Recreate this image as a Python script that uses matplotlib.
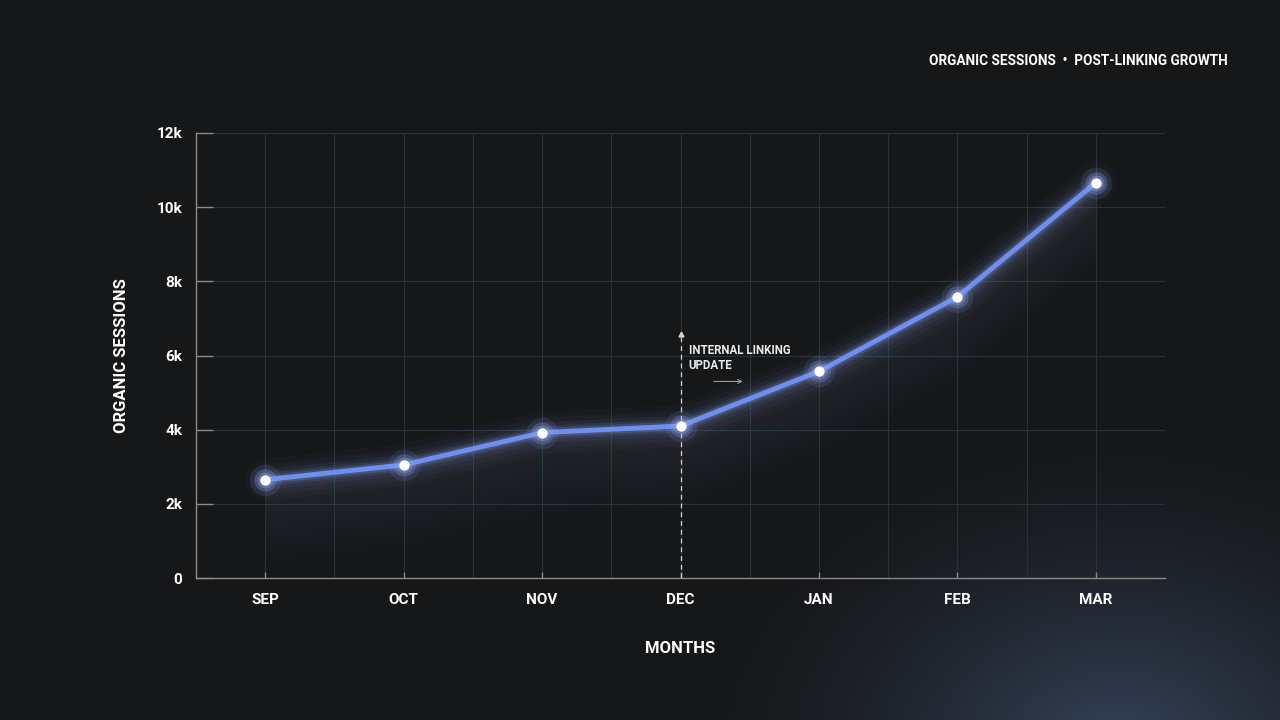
import matplotlib.pyplot as plt
import numpy as np
from matplotlib.colors import LinearSegmentedColormap

plt.rcParams['font.family'] = ['Roboto', 'DejaVu Sans']

months = ['SEP', 'OCT', 'NOV', 'DEC', 'JAN', 'FEB', 'MAR']
sessions = [2650, 3050, 3920, 4100, 5570, 7580, 10660]
yticks = [0, 2000, 4000, 6000, 8000, 10000, 12000]
ytick_labels = ['0', '2k', '4k', '6k', '8k', '10k', '12k']
event_idx = 3  # DEC

bg = '#161719'
line_col = '#6f8ff0'
grid_col = '#2a2f38'

fig = plt.figure(figsize=(12.8, 7.2), dpi=100, facecolor=bg)

# background with a soft glow in the lower right corner (pixel coords, y down)
bga = fig.add_axes([0, 0, 1, 1], zorder=0)
bga.set_axis_off()
gx, gy = np.meshgrid(np.linspace(0, 1280, 320), np.linspace(0, 720, 180))
d = np.sqrt((gx - 1120) ** 2 + ((gy - 760) * 1.3) ** 2)
glow = np.clip(1 - d / 430, 0, 1) ** 1.5
cmap = LinearSegmentedColormap.from_list('bgglow', [bg, '#36445c'])
bga.imshow(glow, cmap=cmap, extent=[0, 1280, 720, 0], origin='upper', aspect='auto', vmin=0, vmax=1)
bga.set_xlim(0, 1280)
bga.set_ylim(720, 0)

ax = fig.add_axes([196 / 1280, 142 / 720, 969 / 1280, 445 / 720], zorder=1)
ax.set_facecolor('none')
x = np.arange(len(months))

# grid
for xi in np.arange(-0.5, len(months), 0.5):
    ax.axvline(xi, color=grid_col, lw=0.8, zorder=1)
for yv in yticks[1:]:
    ax.axhline(yv, color='#2b313c', lw=0.8, zorder=1)

# soft area glow under the line
for k in range(14):
    ax.fill_between(x, sessions, [v - 2200 * (k + 1) / 14 for v in sessions],
                    color='#7a90c8', alpha=0.012, lw=0, zorder=2)

# glowing line
for lw, a in [(30, 0.03), (22, 0.045), (15, 0.07), (10, 0.11), (6.5, 0.2)]:
    ax.plot(x, sessions, color='#8aa2f0', lw=lw, alpha=a, solid_capstyle='round', zorder=3)
ax.plot(x, sessions, color=line_col, lw=3.5, solid_capstyle='round', zorder=4)

# markers with halo
ax.scatter(x, sessions, s=520, color='#8aa2f0', alpha=0.12, lw=0, zorder=5)
ax.scatter(x, sessions, s=260, color='#8aa2f0', alpha=0.25, lw=0, zorder=5)
ax.scatter(x, sessions, s=130, color='#8aa2f0', alpha=0.35, lw=0, zorder=6)
ax.scatter(x, sessions, s=55, color='white', lw=0, zorder=7)

# event marker
ax.plot([event_idx, event_idx], [0, 6550], color='#d0d0d0', lw=0.9, ls=(0, (4, 3)), zorder=3)
ax.plot(event_idx, 6580, marker='^', color='#d0d0d0', ms=3.5, zorder=3)
ax.text(event_idx + 0.06, 6320, 'INTERNAL LINKING\nUPDATE', color='#ececec', fontsize=8.3,
        fontweight='bold', va='top', ha='left', linespacing=1.2, zorder=8)
ax.annotate('', xy=(event_idx + 0.47, 5300), xytext=(event_idx + 0.22, 5300),
            arrowprops=dict(arrowstyle='->', color='#9a9a9a', lw=0.8, mutation_scale=7))

ax.set_xlim(-0.5, len(months) - 0.5)
ax.set_ylim(0, 12000)
ax.set_xticks(x)
ax.set_xticklabels(months)
ax.set_yticks(yticks)
ax.set_yticklabels(ytick_labels)
ax.tick_params(axis='x', direction='in', length=4.5, color='#8a8a8a', width=1,
               labelsize=11, pad=11)
ax.tick_params(axis='y', direction='in', length=12, color='#8a8a8a', width=1,
               labelsize=11, pad=10)
for lab in ax.get_xticklabels() + ax.get_yticklabels():
    lab.set_color('white')
    lab.set_fontweight('bold')
for s in ['top', 'right']:
    ax.spines[s].set_visible(False)
for s in ['left', 'bottom']:
    ax.spines[s].set_color('#8a8a8a')
    ax.spines[s].set_linewidth(1)

ax.set_xlabel('MONTHS', color='white', fontsize=12, fontweight='bold', labelpad=24)
ax.set_ylabel('ORGANIC SESSIONS', color='white', fontsize=12, fontweight='bold', labelpad=20)

fig.text(1228 / 1280, 1 - 61 / 720, 'ORGANIC SESSIONS  •  POST-LINKING GROWTH', color='white',
         fontsize=9.8, fontweight='bold', ha='right', va='center')

fig.savefig('out.png', dpi=100, facecolor=bg)
